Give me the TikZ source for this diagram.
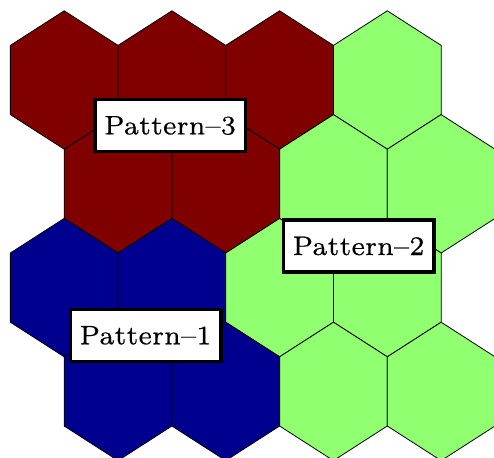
\documentclass[tikz,border=0pt]{standalone}
\usepackage{fontspec}
\usepackage{graphicx}
\newfontface\patfont{lmroman7-regular.otf}[Ligatures=TeX,FakeBold=0.4]
\definecolor{hexred}{RGB}{128,0,0}
\definecolor{hexblue}{RGB}{0,0,143}
\definecolor{hexgreen}{RGB}{144,255,112}
\newcommand{\pattxt}[1]{\scalebox{3.83}{\patfont\fontsize{7}{8}\selectfont #1}}
\tikzset{
  hexcell/.style={draw=black, line width=0.8pt, line join=miter},
  patlabel/.style={draw=black, fill=white, line width=3.5pt, minimum width=150.5pt, minimum height=52pt, inner sep=0pt}
}
\newcommand{\hexat}[3]{% x, y, colour
  \fill[#3] (#1,#2) ++(0,-69.2) -- ++(53.85,34.6) -- ++(0,69.2) -- ++(-53.85,34.6) -- ++(-53.85,-34.6) -- ++(0,-69.2) -- cycle;
  \draw[hexcell] (#1,#2) ++(0,-69.2) -- ++(53.85,34.6) -- ++(0,69.2) -- ++(-53.85,34.6) -- ++(-53.85,-34.6) -- ++(0,-69.2) -- cycle;
}
\begin{document}
\begin{tikzpicture}[x=1pt,y=-1pt]
\useasboundingbox (0,0) rectangle (494,457);
\begin{scope}
\clip (0,0) rectangle (494,457);
% row 1
\hexat{64.2}{80}{hexred}
\hexat{171.9}{80}{hexred}
\hexat{279.6}{80}{hexred}
\hexat{387.3}{80}{hexgreen}
% row 2
\hexat{118.05}{183.8}{hexred}
\hexat{225.75}{183.8}{hexred}
\hexat{333.45}{183.8}{hexgreen}
\hexat{441.15}{183.8}{hexgreen}
% row 3
\hexat{64.2}{287.6}{hexblue}
\hexat{171.9}{287.6}{hexblue}
\hexat{279.6}{287.6}{hexgreen}
\hexat{387.3}{287.6}{hexgreen}
% row 4
\hexat{118.05}{391.4}{hexblue}
\hexat{225.75}{391.4}{hexblue}
\hexat{333.45}{391.4}{hexgreen}
\hexat{441.15}{391.4}{hexgreen}
\end{scope}
\node[patlabel] (p3) at (170,125.5) {\pattxt{Pattern--3}};
\node[patlabel] (p2) at (358.5,246) {\pattxt{Pattern--2}};
\node[patlabel] (p1) at (145.5,335.3) {\pattxt{Pattern--1}};
\end{tikzpicture}
\end{document}
